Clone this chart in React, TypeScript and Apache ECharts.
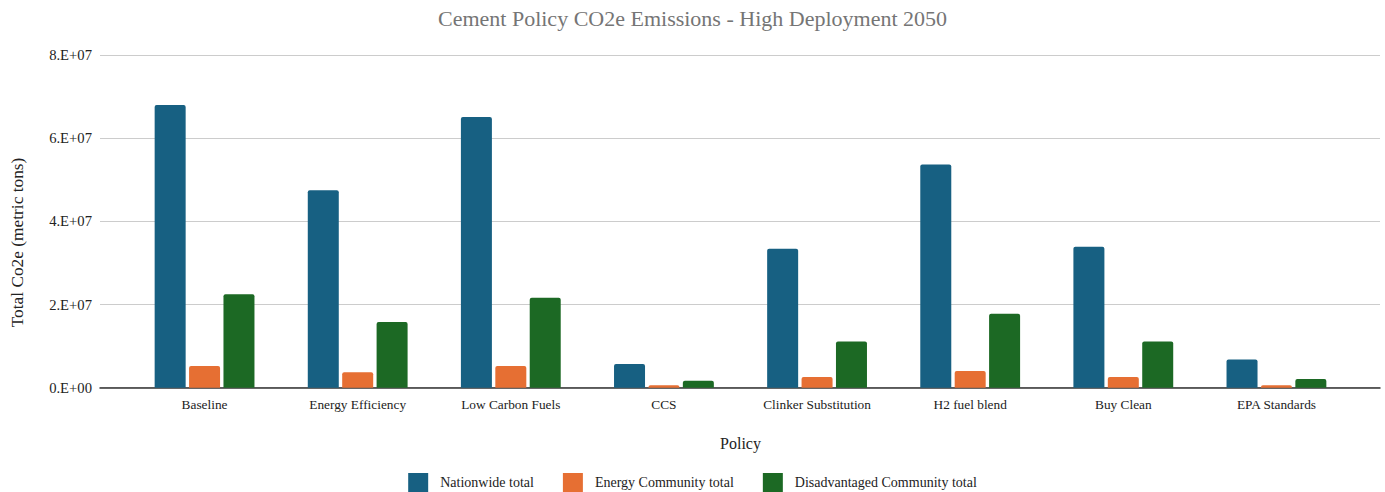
import React, { useEffect, useRef } from "react";
import * as echarts from "echarts";

const categories = [
  "Baseline",
  "Energy Efficiency",
  "Low Carbon Fuels",
  "CCS",
  "Clinker Substitution",
  "H2 fuel blend",
  "Buy Clean",
  "EPA Standards",
];
const nationwide = [6.8e7, 4.75e7, 6.51e7, 0.57e7, 3.34e7, 5.37e7, 3.39e7, 0.68e7];
const energyCommunity = [0.52e7, 0.37e7, 0.52e7, 0.06e7, 0.26e7, 0.4e7, 0.26e7, 0.06e7];
const disadvantaged = [2.25e7, 1.58e7, 2.16e7, 0.17e7, 1.11e7, 1.78e7, 1.11e7, 0.21e7];
const seriesNames = ["Nationwide total", "Energy Community total", "Disadvantaged Community total"];
const colors = ["#176082", "#E66F33", "#1C6924"];
const yAxisTitle = "Total Co2e (metric tons)";

const FONT = "Liberation Serif";

export default function App() {
  const ref = useRef<HTMLDivElement>(null);
  useEffect(() => {
    if (!ref.current) return;
    const chart = echarts.init(ref.current, undefined, { renderer: "svg" });
    const top = 55;
    const height = 332.7;
    const mkBar = (name: string, data: number[], color: string) => ({
      name,
      type: "bar",
      xAxisIndex: 1,
      yAxisIndex: 1,
      data,
      barWidth: 31,
      barGap: "11%",
      itemStyle: { color, borderRadius: [2, 2, 0, 0] },
    });
    chart.setOption({
      animation: false,
      backgroundColor: "#ffffff",
      textStyle: { fontFamily: FONT },
      title: {
        text: "Cement Policy CO2e Emissions - High Deployment 2050",
        left: "center",
        top: 2,
        textStyle: { fontFamily: FONT, fontSize: 22, fontWeight: "normal", color: "#757575" },
      },
      legend: {
        top: 468,
        left: "center",
        itemWidth: 20,
        itemHeight: 19,
        itemGap: 29,
        icon: "rect",
        data: seriesNames,
        textStyle: { fontFamily: FONT, fontSize: 14, color: "#222", padding: [0, 0, 0, 7] },
      },
      graphic: [
        {
          type: "text",
          x: 17,
          y: 242.5,
          rotation: Math.PI / 2,
          style: {
            text: yAxisTitle,
            fontFamily: FONT,
            fontSize: 17.33,
            fill: "#222",
            textAlign: "center",
            textVerticalAlign: "middle",
          },
        },
      ],
      grid: [
        { left: 100, right: 5, top, height },
        { left: 128, right: 32, top, height },
      ],
      xAxis: [
        {
          type: "category",
          gridIndex: 0,
          data: [""],
          axisLine: { show: true, lineStyle: { color: "#333", width: 1.5 } },
          axisTick: { show: false },
          axisLabel: { show: false },
          splitLine: { show: false },
        },
        {
          type: "category",
          gridIndex: 1,
          data: categories,
          axisLine: { show: false },
          axisTick: { show: false },
          axisLabel: { margin: 10, color: "#222", fontSize: 13.33, fontFamily: FONT },
          name: "Policy",
          nameLocation: "middle",
          nameGap: 48,
          nameTextStyle: { fontFamily: FONT, fontSize: 16, color: "#222" },
        },
      ],
      yAxis: [
        {
          type: "value",
          gridIndex: 0,
          min: 0,
          max: 8e7,
          interval: 2e7,
          axisLine: { show: false },
          axisTick: { show: false },
          axisLabel: {
            margin: 8,
            color: "#222",
            fontSize: 14.67,
            fontFamily: FONT,
            formatter: (v: number) => (v === 0 ? "0.E+00" : Math.round(v / 1e7) + ".E+07"),
          },
          splitLine: { lineStyle: { color: "#cccccc", width: 1 } },
        },
        {
          type: "value",
          gridIndex: 1,
          min: 0,
          max: 8e7,
          interval: 2e7,
          show: false,
          splitLine: { show: false },
        },
      ],
      series: [
        mkBar(seriesNames[0], nationwide, colors[0]),
        mkBar(seriesNames[1], energyCommunity, colors[1]),
        mkBar(seriesNames[2], disadvantaged, colors[2]),
      ],
    });
    return () => chart.dispose();
  }, []);
  return (
    <div
      ref={ref}
      style={{ position: "absolute", left: 0, top: 0, width: 1385, height: 492 }}
    />
  );
}
